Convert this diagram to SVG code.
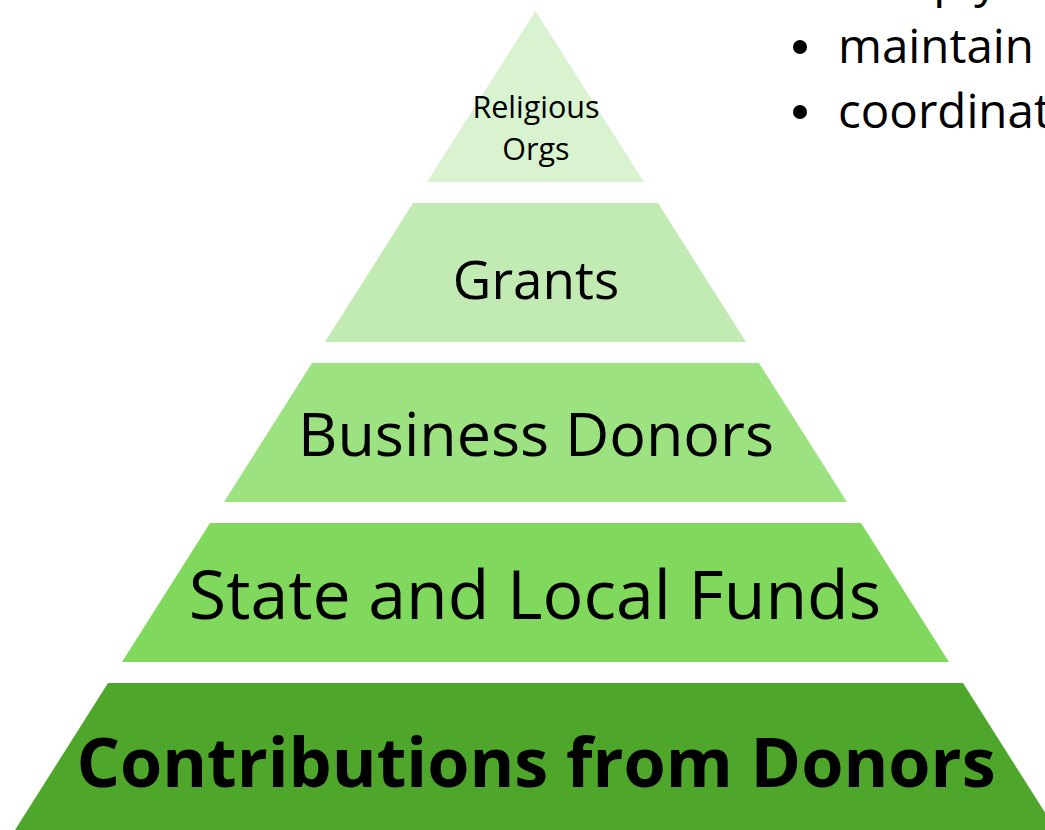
<svg xmlns="http://www.w3.org/2000/svg" width="1045" height="830" viewBox="0 0 1045 830">
<style>
.t{font-family:"Open Sans","Noto Sans",sans-serif;fill:#000;text-anchor:middle}
.b{font-family:"Open Sans","Noto Sans",sans-serif;fill:#000;font-size:47.5px}
</style>
<rect width="1045" height="830" fill="#fff"/>
<g id="tier1">
<polygon points="535.5,11 644,182 427,182" fill="#d9f2d0"/>
<text class="t" x="536" y="118" font-size="30.5">Religious</text>
<text class="t" x="536" y="160" font-size="30.5">Orgs</text>
</g>
<g id="tier2">
<polygon points="413,203 658,203 746,342 325,342" fill="#c1ebb2"/>
<text class="t" x="536" y="299" font-size="53">Grants</text>
</g>
<g id="tier3">
<polygon points="312,363 759,363 847,502 224,502" fill="#9de281"/>
<text class="t" x="536" y="456" font-size="61">Business Donors</text>
</g>
<g id="tier4">
<polygon points="210,523 861,523 949,662 122,662" fill="#80d95d"/>
<text class="t" x="535" y="619" font-size="68">State and Local Funds</text>
</g>
<g id="tier5">
<polygon points="108,683 963,683 1056,830 15,830" fill="#4ea72a"/>
<text class="t" x="536" y="787" font-size="68.3" font-weight="bold">Contributions from Donors</text>
</g>
<g id="bullets">
<circle cx="800" cy="-18" r="7" fill="#000"/>
<text class="b" x="838" y="-3">comply</text>
<circle cx="800" cy="47" r="7" fill="#000"/>
<text class="b" x="838" y="63">maintain</text>
<circle cx="800" cy="112" r="7" fill="#000"/>
<text class="b" x="838" y="128">coordinate</text>
</g>
<g id="connectors"/>
</svg>
